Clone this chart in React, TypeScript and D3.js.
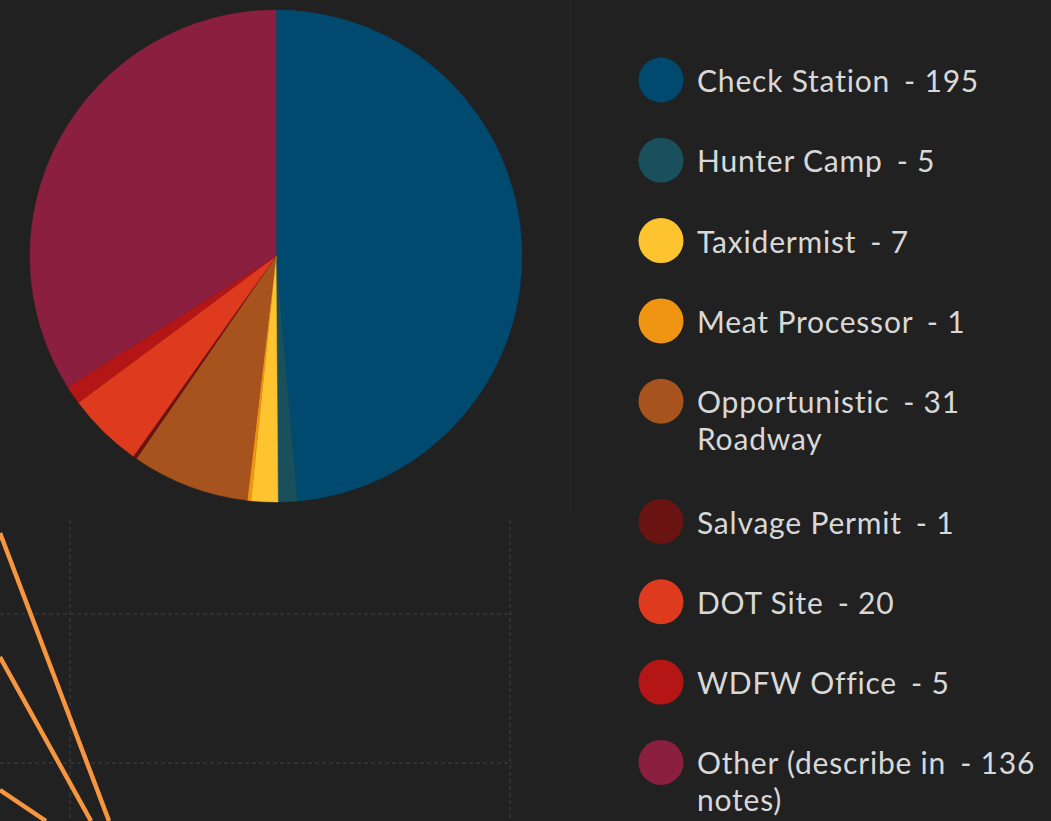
import * as d3 from 'd3';
import { useEffect, useRef } from 'react';

// Pie slices, in drawing order (clockwise from 12 o'clock)
const categories = [
  'Check Station',
  'Hunter Camp',
  'Taxidermist',
  'Meat Processor',
  'Opportunistic Roadway',
  'Salvage Permit',
  'DOT Site',
  'WDFW Office',
  'Other (describe in notes)',
];
const counts = [195, 5, 7, 1, 31, 1, 20, 5, 136];
const colors = [
  '#004a70',
  '#19505c',
  '#fec42f',
  '#ef9512',
  '#a6531d',
  '#6a1313',
  '#de3a1e',
  '#b41616',
  '#8a1f3f',
];

type Slice = { label: string; value: number; color: string };

const App = () => {
  const svgRef = useRef<SVGSVGElement | null>(null);

  useEffect(() => {
    const width = 1051;
    const height = 821;
    const data: Slice[] = categories.map((c, i) => ({ label: c, value: counts[i], color: colors[i] }));

    const svg = d3.select(svgRef.current)
      .attr('width', width)
      .attr('height', height);

    svg.selectAll('*').remove();

    // Background
    svg.append('rect')
      .attr('width', width)
      .attr('height', height)
      .attr('fill', '#212121');

    // Faint dashed guides from the dashboard panel behind the chart
    const guides = svg.append('g')
      .attr('stroke', '#313131')
      .attr('stroke-width', 2)
      .attr('stroke-dasharray', '4 3');
    [614, 763].forEach((gy) => {
      guides.append('line').attr('x1', 0).attr('x2', 512).attr('y1', gy).attr('y2', gy);
    });
    [70, 510].forEach((gx) => {
      guides.append('line').attr('x1', gx).attr('x2', gx).attr('y1', 520).attr('y2', height);
    });

    // Panel divider
    svg.append('line')
      .attr('x1', 570).attr('x2', 570)
      .attr('y1', 0).attr('y2', 512)
      .attr('stroke', '#292929')
      .attr('stroke-width', 1.5);

    // Orange lines of the neighbouring widget, peeking in at bottom left
    const streaks: [number, number, number, number][] = [
      [0, 533, 109, 821],
      [0, 657, 91, 821],
      [0, 790, 46, 821],
    ];
    svg.append('g')
      .selectAll('line')
      .data(streaks)
      .join('line')
      .attr('x1', (d) => d[0])
      .attr('y1', (d) => d[1])
      .attr('x2', (d) => d[2])
      .attr('y2', (d) => d[3])
      .attr('stroke', '#f7963f')
      .attr('stroke-width', 4.5);

    // Pie
    const cx = 276;
    const cy = 256;
    const radius = 246;

    const pie = d3.pie<Slice>()
      .sort(null)
      .value((d) => d.value);

    const arc = d3.arc<d3.PieArcDatum<Slice>>()
      .innerRadius(0)
      .outerRadius(radius);

    svg.append('g')
      .attr('transform', `translate(${cx},${cy})`)
      .selectAll('path')
      .data(pie(data))
      .join('path')
      .attr('d', arc)
      .attr('fill', (d) => d.data.color)
      .attr('stroke', (d) => d.data.color)
      .attr('stroke-width', 0.5);

    // Legend
    const legendX = 661;
    const textX = 697;
    const firstY = 80;
    const rowStep = 80.3;
    const lineHeight = 37;
    const maxLabelWidth = 295;

    const legend = svg.append('g')
      .style('font-family', 'Lato, "Open Sans", sans-serif')
      .style('font-size', '30px')
      .style('letter-spacing', '0.8px')
      .attr('fill', '#d8d8d8');

    let y = firstY;
    data.forEach((d) => {
      legend.append('circle')
        .attr('cx', legendX)
        .attr('cy', y)
        .attr('r', 22.5)
        .attr('fill', d.color);

      const text = legend.append('text')
        .attr('x', textX)
        .attr('y', y + 12);

      // wrap the label by measuring words
      const words = d.label.split(' ');
      const lines: string[] = [];
      let current = '';
      const probe = legend.append('text').attr('visibility', 'hidden');
      words.forEach((w) => {
        const trial = current ? current + ' ' + w : w;
        probe.text(trial);
        const len = (probe.node() as SVGTextElement).getComputedTextLength();
        if (len > maxLabelWidth && current) {
          lines.push(current);
          current = w;
        } else {
          current = trial;
        }
      });
      lines.push(current);
      probe.remove();

      lines.forEach((ln, i) => {
        text.append('tspan')
          .attr('x', textX)
          .attr('dy', i === 0 ? 0 : lineHeight)
          .text(ln);
        if (i === 0) {
          text.append('tspan')
            .attr('dx', 14)
            .text(`- ${d.value}`);
        }
      });

      y += rowStep + (lines.length - 1) * 40;
    });
  }, []);

  return <svg ref={svgRef} style={{ position: 'absolute', left: 0, top: 0, display: 'block' }}></svg>;
};

export default App;
